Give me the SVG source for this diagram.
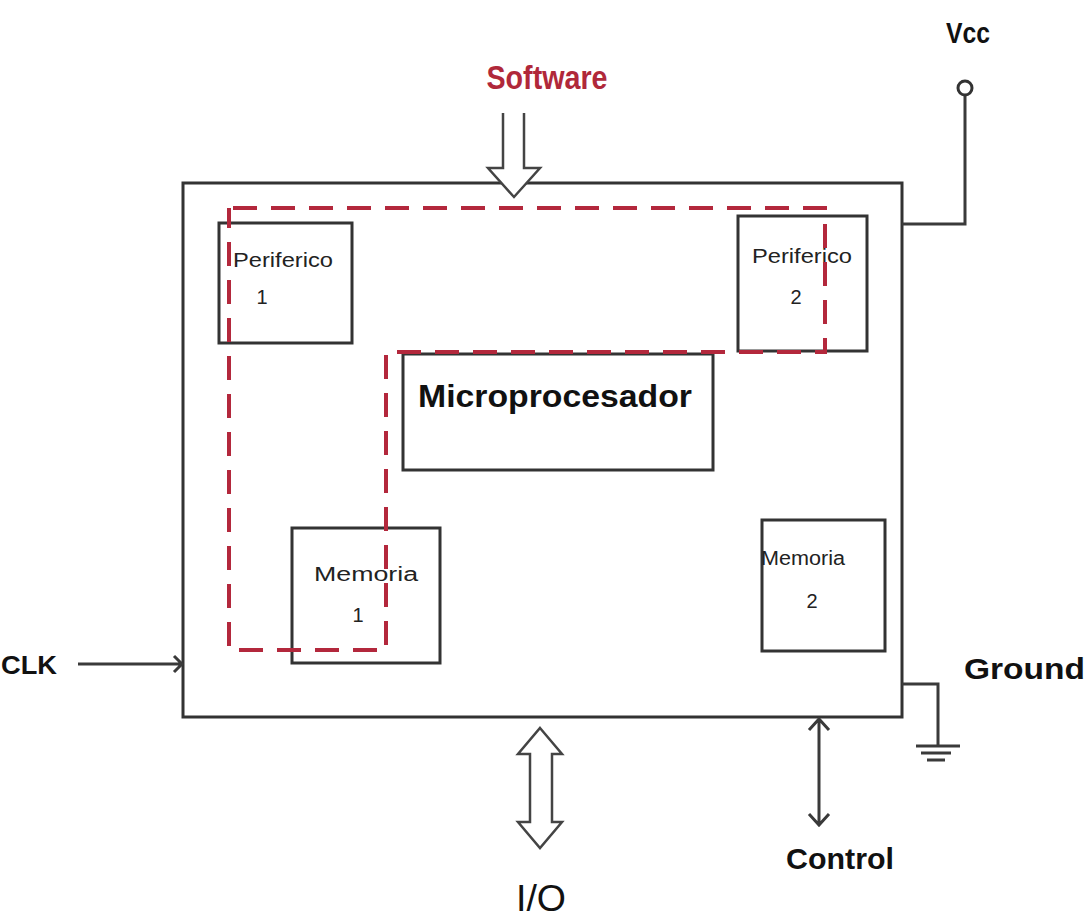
<svg xmlns="http://www.w3.org/2000/svg" width="1091" height="924" viewBox="0 0 1091 924">
<style>
.box{fill:#fff;stroke:#333;stroke-width:3}
.ln{fill:none;stroke:#3a3a3a;stroke-width:3}
.hollow{fill:#fff;stroke:#444;stroke-width:2.5;stroke-linejoin:miter}
.dash{fill:none;stroke:#b3283c;stroke-width:4;stroke-dasharray:24 14}
.lbl{font-family:"Liberation Sans",Arial,sans-serif;font-weight:bold;fill:#111}
.small{font-family:"Liberation Sans",Arial,sans-serif;font-size:20px;fill:#222;text-anchor:middle}
</style>
<rect width="1091" height="924" fill="#fff"/>
<g id="chip"><rect class="box" x="183" y="183" width="719" height="534"/></g>
<g id="periferico1"><rect class="box" x="219" y="223" width="133" height="120"/>
<text class="small" x="283" y="267" textLength="100" lengthAdjust="spacingAndGlyphs">Periferico</text>
<text class="small" x="262" y="304">1</text></g>
<g id="periferico2"><rect class="box" x="738" y="216" width="129" height="135"/>
<text class="small" x="802" y="263" textLength="100" lengthAdjust="spacingAndGlyphs">Periferico</text>
<text class="small" x="796" y="304">2</text></g>
<g id="microprocesador"><rect class="box" x="403" y="354" width="310" height="116"/>
<text class="lbl" x="418" y="407" font-size="32" textLength="274" lengthAdjust="spacingAndGlyphs">Microprocesador</text></g>
<g id="memoria1"><rect class="box" x="292" y="528" width="148" height="135"/>
<text class="small" x="366" y="581" textLength="104" lengthAdjust="spacingAndGlyphs">Memoria</text>
<text class="small" x="358" y="622">1</text></g>
<g id="memoria2"><rect class="box" x="762" y="520" width="123" height="131"/>
<text class="small" x="803" y="565" textLength="84" lengthAdjust="spacingAndGlyphs">Memoria</text>
<text class="small" x="812" y="608">2</text></g>
<g id="software-path"><path class="dash" d="M233 208 H825 V352 H386 V650 H229 V208"/></g>
<g id="connectors">
<path class="hollow" d="M503 113 V168 H488 L514 197 L540 168 H524 V113"/>
<path class="ln" d="M902 224 H965 V95"/>
<circle cx="965" cy="88" r="7" fill="#fff" stroke="#333" stroke-width="3"/>
<path class="ln" d="M902 684 H938 V746"/>
<path class="ln" d="M916 746 H960 M921 753 H951 M927 760 H945"/>
<path class="ln" d="M78 664 H181 M174 656 L182 664 L174 672"/>
<path class="hollow" d="M540 728 L562 754 H552 V822 H562 L540 848 L518 822 H530 V754 H518 Z"/>
<path class="ln" d="M819 720 V825 M809 730 L819 719 L829 730 M809 814 L819 825 L829 814" stroke-width="2.5"/>
</g>
<g id="labels">
<text class="lbl" x="547" y="89" font-size="33" style="fill:#b0283a" text-anchor="middle" textLength="121" lengthAdjust="spacingAndGlyphs">Software</text>
<text class="lbl" x="968" y="43" font-size="29" text-anchor="middle" textLength="44" lengthAdjust="spacingAndGlyphs">Vcc</text>
<text class="lbl" x="964" y="679" font-size="30" textLength="121" lengthAdjust="spacingAndGlyphs">Ground</text>
<text class="lbl" x="1" y="674" font-size="25" textLength="56" lengthAdjust="spacingAndGlyphs">CLK</text>
<text class="lbl" x="541" y="911" font-size="36" text-anchor="middle" textLength="50" lengthAdjust="spacingAndGlyphs" style="font-weight:normal">I/O</text>
<text class="lbl" x="840" y="869" font-size="30" text-anchor="middle" textLength="108" lengthAdjust="spacingAndGlyphs">Control</text>
</g>
</svg>
